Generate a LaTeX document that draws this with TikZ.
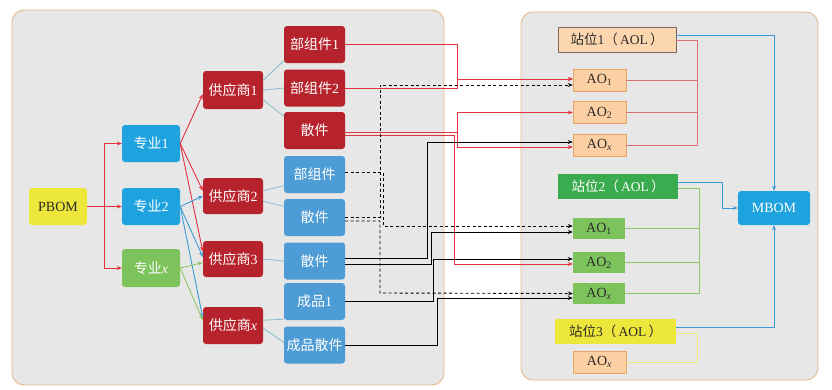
\documentclass[tikz,border=0pt]{standalone}
\usepackage{fontspec}
\setmainfont{Liberation Serif}
\newfontfamily\cjk{Noto Sans CJK SC}
\usetikzlibrary{arrows.meta}
\definecolor{panelfill}{HTML}{E7E7E7}
\definecolor{panelline}{HTML}{E2BC8C}
\definecolor{cred}{HTML}{B7232C}
\definecolor{cblue}{HTML}{1FA3DE}
\definecolor{cblue2}{HTML}{4E9CD5}
\definecolor{cgreen}{HTML}{7DC35B}
\definecolor{cyellow}{HTML}{EDE63B}
\definecolor{corange}{HTML}{FCD0A2}
\definecolor{corline}{HTML}{E8A468}
\definecolor{cst1}{HTML}{FCD6AF}
\definecolor{cst1line}{HTML}{7D6A5C}
\definecolor{cgreen2}{HTML}{3BAB50}
\definecolor{lred}{HTML}{E3323C}
\definecolor{lpink}{HTML}{E06F72}
\definecolor{lblue}{HTML}{3A9BD8}
\definecolor{lteal}{HTML}{86BCCB}
\definecolor{lgreen}{HTML}{8CC66A}
\definecolor{lyellow}{HTML}{EEE770}
\definecolor{darktext}{HTML}{2B2B2B}
\begin{document}
\begin{tikzpicture}[x=1pt,y=-1pt,
  panel/.style={draw=panelline,fill=panelfill,line width=0.9pt,rounded corners=12pt},
  box/.style={rounded corners=3pt,inner sep=0pt,font=\fontsize{14}{14}\selectfont,text=white},
  redbox/.style={box,fill=cred,minimum width=60pt,minimum height=37pt},
  bluebox/.style={box,fill=cblue,minimum width=58pt,minimum height=37pt},
  partred/.style={box,fill=cred,minimum width=61pt,minimum height=37pt},
  partblue/.style={box,fill=cblue2,minimum width=61pt,minimum height=37pt},
  aoor/.style={draw=corline,fill=corange,minimum width=53pt,minimum height=22pt,inner sep=0pt,font=\fontsize{14}{14}\selectfont,text=darktext},
  aogr/.style={fill=cgreen,minimum width=52pt,minimum height=21pt,inner sep=0pt,font=\fontsize{14}{14}\selectfont,text=darktext},
  stbox/.style={minimum height=25pt,inner sep=0pt,font=\fontsize{13.5}{13.5}\selectfont},
  tip/.style={-{Stealth[length=5pt,width=4pt]}},
  redln/.style={draw=lred,line width=0.9pt},
  blueln/.style={draw=lblue,line width=0.9pt},
  greenln/.style={draw=lgreen,line width=0.9pt},
  thin/.style={draw=lteal,line width=0.8pt},
  blackln/.style={draw=black,line width=0.9pt},
  dashln/.style={draw=black,line width=0.9pt,dash pattern=on 3pt off 2.5pt},
  pinkln/.style={draw=lpink,line width=0.8pt},
  ltgreen/.style={draw=lgreen,line width=0.8pt},
  ltyellow/.style={draw=lyellow,line width=0.9pt}
]
\useasboundingbox (0,0) rectangle (832,389);
\fill[white] (0,0) rectangle (832,389);
% panels
\path[panel] (12,10) rectangle (444,385);
\path[panel] (521,12) rectangle (818,380);

% left nodes
\node[box,fill=cyellow,text=darktext,minimum width=58pt,minimum height=37pt] (pbom) at (58,206.5) {PBOM};
\node[bluebox] (z1) at (151,143.5) {{\cjk 专业}1};
\node[bluebox] (z2) at (151,206.5) {{\cjk 专业}2};
\node[box,fill=cgreen,minimum width=58pt,minimum height=38pt] (zx) at (151,268) {{\cjk 专业}\textit{x}};
\node[redbox,minimum height=38pt] (s1) at (233,90) {{\cjk 供应商}1};
\node[redbox,minimum height=36pt] (s2) at (233,196) {{\cjk 供应商}2};
\node[redbox,minimum height=36pt] (s3) at (233,259) {{\cjk 供应商}3};
\node[redbox,minimum height=37pt] (sx) at (233,325.5) {{\cjk 供应商}\textit{x}};
\node[partred] (p1) at (314.5,44.5) {{\cjk 部组件}1};
\node[partred] (p2) at (314.5,88) {{\cjk 部组件}2};
\node[partred] (p3) at (314.5,130.5) {\cjk 散件};
\node[partblue] (p4) at (314.5,174.5) {\cjk 部组件};
\node[partblue] (p5) at (314.5,217.5) {\cjk 散件};
\node[partblue] (p6) at (314.5,261) {\cjk 散件};
\node[partblue] (p7) at (314.5,301.5) {{\cjk 成品}1};
\node[partblue] (p8) at (314.5,345) {\cjk 成品散件};

% right nodes
\node[stbox,draw=cst1line,fill=cst1,text=darktext,minimum width=118pt] (st1) at (617,39.5) {{\cjk 站位}1{\cjk （}\,AOL\,{\cjk ）}};
\node[aoor] (a1) at (599.5,80) {AO\textsubscript{1}};
\node[aoor] (a2) at (599.5,112.5) {AO\textsubscript{2}};
\node[aoor] (a3) at (599.5,145) {AO\textsubscript{\textit{x}}};
\node[stbox,fill=cgreen2,text=white,minimum width=120pt] (st2) at (618,186.5) {{\cjk 站位}2{\cjk （}\,AOL\,{\cjk ）}};
\node[box,fill=cblue,minimum width=72pt,minimum height=34pt] (mbom) at (774,208) {MBOM};
\node[aogr] (b1) at (599,228.5) {AO\textsubscript{1}};
\node[aogr] (b2) at (599,262.5) {AO\textsubscript{2}};
\node[aogr] (b3) at (599,293.5) {AO\textsubscript{\textit{x}}};
\node[stbox,fill=cyellow,text=darktext,minimum width=121pt] (st3) at (615.5,331.5) {{\cjk 站位}3{\cjk （}\,AOL\,{\cjk ）}};
\node[aoor] (c1) at (599.5,362) {AO\textsubscript{\textit{x}}};

% PBOM to 专业
\coordinate (pj) at (104,206.5);
\draw[redln] (pbom.east) -- (pj);
\draw[redln,tip] (pj) |- (z1.west);
\draw[redln,tip] (pj) -- (z2.west);
\draw[redln,tip] (pj) |- (zx.west);

% 专业 to 供应商
\draw[redln,tip] (z1.east) -- (s1.188);
\draw[redln,tip] (z1.east) -- (s2.170);
\draw[redln,tip] (z1.east) -- (s3.166);
\draw[blueln,tip] (z2.east) -- (s2.west);
\draw[blueln,tip] (z2.east) -- (s3.176);
\draw[blueln,tip] (z2.east) -- (sx.166);
\draw[greenln,tip] (zx.east) -- (s3.187);
\draw[greenln,tip] (zx.east) -- (sx.170);

% 供应商 to parts
\draw[thin] (s1.18) -- (p1.208);
\draw[thin] (s1.east) -- (p2.west);
\draw[thin] (s1.-18) -- (p3.155);
\draw[thin] (s2.10) -- (p4.200);
\draw[thin] (s2.-10) -- (p5.160);
\draw[thin] (s3.east) -- (p6.west);
\draw[thin] (sx.10) -- (p7.210);
\draw[thin] (sx.-5) -- (p8.175);

% red part connectors
\draw[redln,tip] (p1.east) -| (457,79) -- ([yshift=1pt]a1.west);
\draw[redln,tip] (p2.east) -| (457,79) -- ([yshift=1pt]a1.west);
\draw[redln,tip] ([yshift=-1.5pt]p3.east) -| (457,112.5) -- (a2.west);
\draw[redln,tip] ([yshift=-1.5pt]p3.east) -| (457,147) -- ([yshift=-2pt]a3.west);
\draw[redln,tip] ([yshift=-4.5pt]p3.east) -| (454,264) -- ([yshift=-1.5pt]b2.west);

% black solid connectors
\draw[blackln,tip] ([yshift=3pt]p6.east) -| (427,142) -- ([yshift=3pt]a3.west);
\draw[blackln,tip] ([yshift=-3pt]p6.east) -| (431,232) -- ([yshift=-3.5pt]b1.west);
\draw[blackln,tip] (p7.east) -| (433,259) -- ([yshift=3.5pt]b2.west);
\draw[blackln,tip] (p8.east) -| (437,298) -- ([yshift=-4.5pt]b3.west);

% dashed connectors
\draw[dashln,tip] ([yshift=2.5pt]p4.east) -| (383,226) -- ([yshift=2.5pt]b1.west);
\draw[dashln,tip] (p5.east) -| (380,85) -- ([yshift=-5pt]a1.west);
\draw[dashln,tip] ([yshift=-3.5pt]p5.east) -| (380,293) -- (b3.west);

% station 1 bracket
\draw[pinkln] ([yshift=-0.5pt]st1.east) -| (697,145) -- (a3.east);
\draw[pinkln] (a1.east) -- +(71,0);
\draw[pinkln] (a2.east) -- +(71,0);
% station 2 bracket
\draw[ltgreen] ([yshift=-2pt]st2.east) -| (699,293.5) -- (b3.east);
\draw[ltgreen] (b1.east) -- +(74,0);
\draw[ltgreen] (b2.east) -- +(74,0);
% station 3 bracket
\draw[ltyellow] ([yshift=-1.5pt]st3.east) -| (697,362) -- (c1.east);

% to MBOM
\draw[blueln,tip] ([yshift=4.5pt]st1.east) -| (mbom.north);
\draw[blueln,tip] ([yshift=4.5pt]st2.east) -| (722,208) -- (mbom.west);
\draw[blueln,tip] ([yshift=4.5pt]st3.east) -| (mbom.south);
\end{tikzpicture}
\end{document}
